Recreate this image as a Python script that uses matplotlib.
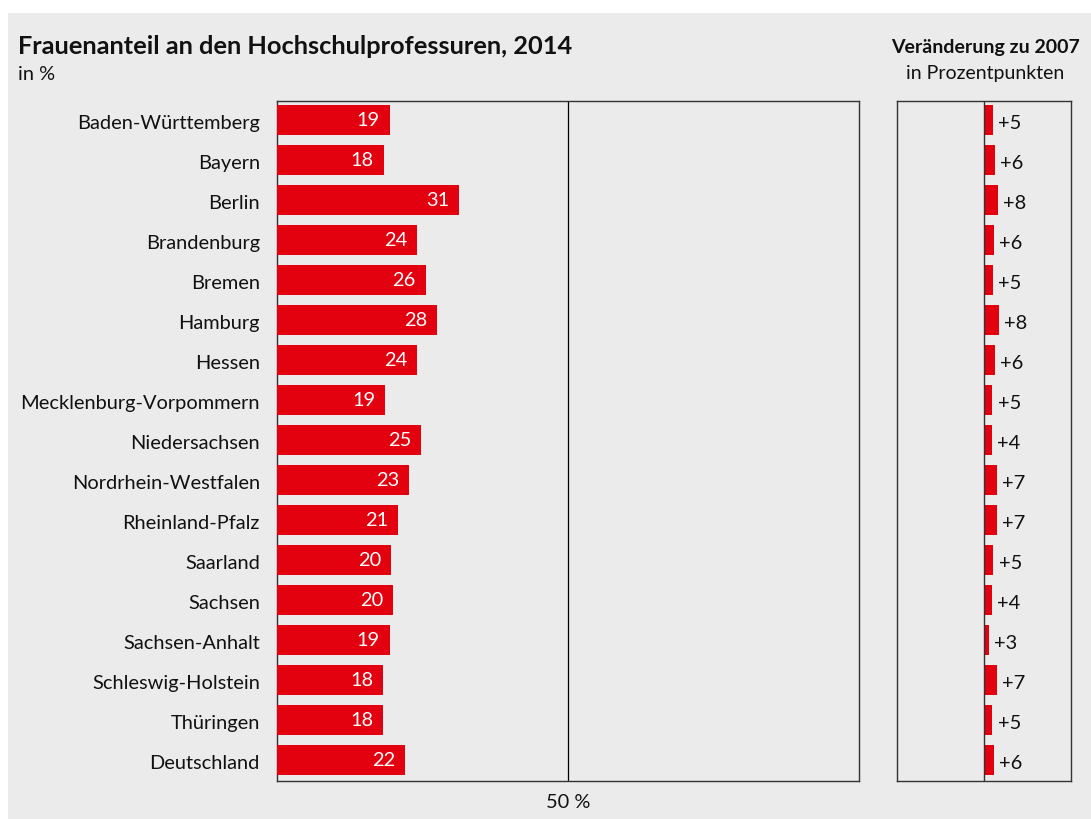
import matplotlib
matplotlib.use("Agg")
import matplotlib.pyplot as plt
from matplotlib.patches import Rectangle
from matplotlib.transforms import ScaledTranslation

plt.rcParams['font.family'] = ['Lato', 'DejaVu Sans']

laender = ["Baden-Württemberg", "Bayern", "Berlin", "Brandenburg", "Bremen",
           "Hamburg", "Hessen", "Mecklenburg-Vorpommern", "Niedersachsen",
           "Nordrhein-Westfalen", "Rheinland-Pfalz", "Saarland", "Sachsen",
           "Sachsen-Anhalt", "Schleswig-Holstein", "Thüringen", "Deutschland"]
anteil_2014 = [19.4, 18.4, 31.4, 24.1, 25.6, 27.6, 24.1, 18.6, 24.8,
               22.7, 20.9, 19.6, 20.0, 19.4, 18.3, 18.3, 22.1]
veraenderung = [5.0, 6.1, 7.9, 5.6, 5.0, 8.4, 6.1, 4.6, 4.4,
                7.3, 7.3, 5.4, 4.4, 2.7, 7.3, 4.6, 5.6]
x_ticks = [50]
x_ticklabels = ["50 %"]

RED = "#e3000f"
BG = "#ebebeb"
SPINE = "#333333"
TXT = "#111111"
FS = 14.4

W, H = 1091, 819
fig = plt.figure(figsize=(W / 100, H / 100), dpi=100, facecolor="white")
fig.patches.append(Rectangle((8 / W, 0), 1 - 8 / W, 1 - 13 / H,
                             transform=fig.transFigure, facecolor=BG,
                             edgecolor="none", zorder=-10))

top = 1 - 101 / H
bottom = 1 - 780.5 / H
ax = fig.add_axes([276.5 / W, bottom, (859 - 276.5) / W, top - bottom])
ax2 = fig.add_axes([897 / W, bottom, 174 / W, top - bottom])

n = len(laender)
ypos = list(range(n))

for a in (ax, ax2):
    a.set_facecolor(BG)
    for s in a.spines.values():
        s.set_color(SPINE)
        s.set_linewidth(1.0)
    a.set_ylim(n - 0.5, -0.48)

# left panel
ax.barh(ypos, anteil_2014, height=0.75, color=RED, zorder=3)
ax.set_xlim(0, 100)
ax.axvline(50, color="black", linewidth=0.9, zorder=2)
ax.set_xticks(x_ticks)
ax.set_xticklabels(x_ticklabels, fontsize=FS)
ax.set_yticks(ypos)
ax.set_yticklabels(laender, fontsize=FS)
ax.tick_params(axis="both", length=0, colors=TXT)
ax.tick_params(axis="y", pad=12)
ax.tick_params(axis="x", pad=10)
shift = ScaledTranslation(0, -2 / 100, fig.dpi_scale_trans)
for lbl in ax.get_yticklabels():
    lbl.set_transform(lbl.get_transform() + shift)
for y, v in zip(ypos, anteil_2014):
    ax.annotate(f"{v:.0f}", xy=(v, y), xytext=(-7, 0), textcoords="offset points",
                ha="right", va="center", color="white", fontsize=FS, zorder=4)

# right panel
ax2.barh(ypos, veraenderung, height=0.75, color=RED, zorder=3)
ax2.set_xlim(-50, 50)
ax2.axvline(0, color=SPINE, linewidth=1.0, zorder=4)
ax2.set_xticks([])
ax2.set_yticks([])
for y, v in zip(ypos, veraenderung):
    ax2.annotate(f"+{v:.0f}", xy=(v, y), xytext=(4, -1), textcoords="offset points",
                 ha="left", va="center_baseline", color=TXT, fontsize=FS, zorder=4)

# titles
fig.text(18 / W, 1 - 47 / H, "Frauenanteil an den Hochschulprofessuren, 2014",
         fontsize=18.3, fontweight="bold", ha="left", va="center", color=TXT)
fig.text(18 / W, 1 - 75 / H, "in %", fontsize=FS, ha="left", va="center",
         color=TXT)
fig.text(985 / W, 1 - 47 / H, "Veränderung zu 2007", fontsize=14,
         fontweight="bold", ha="center", va="center", color=TXT)
fig.text(985 / W, 1 - 73 / H, "in Prozentpunkten", fontsize=14,
         ha="center", va="center", color=TXT)

fig.savefig("out.png", dpi=100, facecolor="white")
